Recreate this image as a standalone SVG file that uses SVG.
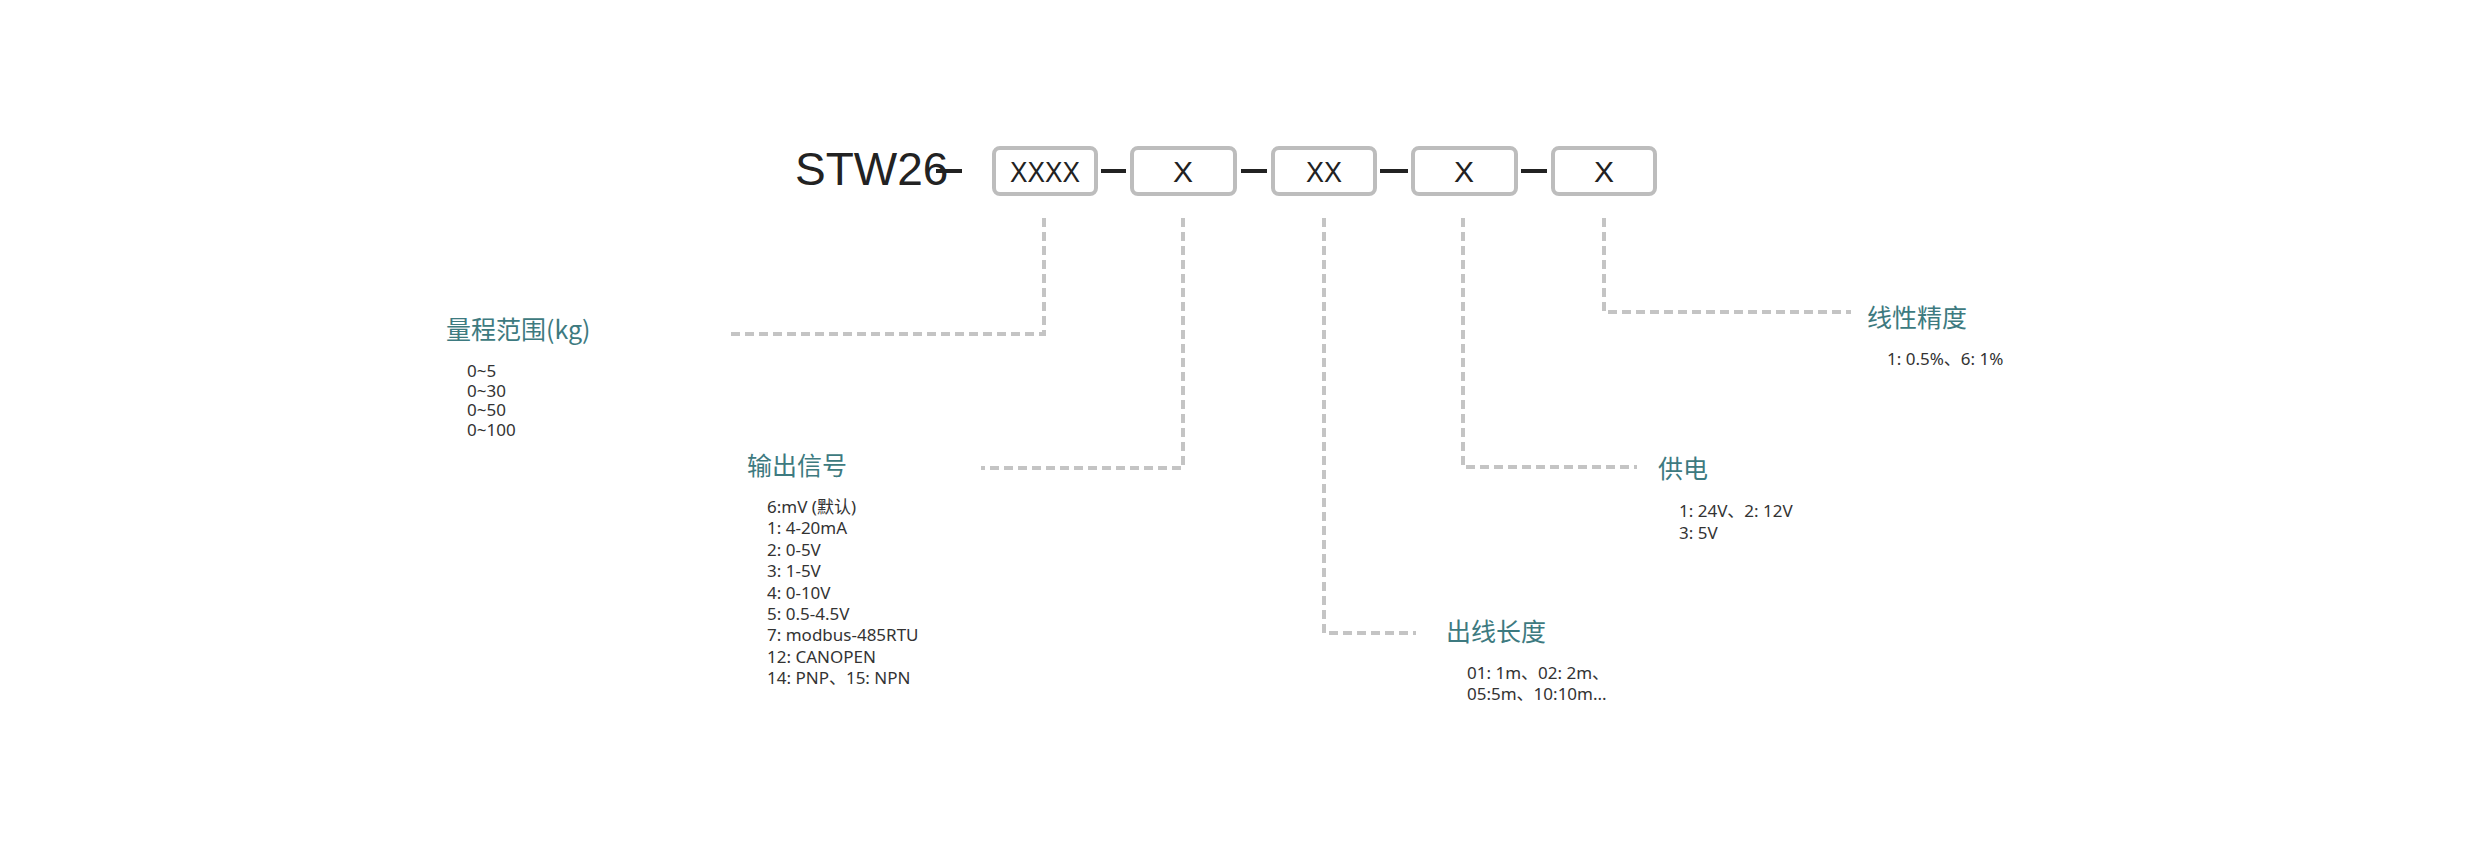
<svg xmlns="http://www.w3.org/2000/svg" width="2481" height="859" viewBox="0 0 2481 859">
<style>
.box{fill:#fff;stroke:#bdbdbd;stroke-width:4}
.bt{font-family:"Liberation Sans",sans-serif;font-size:30px;fill:#222;text-anchor:middle}
.dl{fill:none;stroke:#c4c4c4;stroke-width:4;stroke-dasharray:9 5}
.h{font-family:"Noto Sans CJK SC","Noto Sans",sans-serif;font-size:25px;fill:#3d7a80}
.t{font-family:"Noto Sans","Noto Sans CJK SC",sans-serif;font-size:17px;fill:#333}
.dash{stroke:#222;stroke-width:4}
</style>
<rect width="2481" height="859" fill="#fff"/>
<g id="code">
<text x="795" y="185" font-family="Liberation Sans,sans-serif" font-size="46" fill="#222">STW26</text>
<line class="dash" x1="936" y1="171" x2="962" y2="171"/>
<line class="dash" x1="1101" y1="171" x2="1126" y2="171"/>
<line class="dash" x1="1241" y1="171" x2="1267" y2="171"/>
<line class="dash" x1="1380" y1="171" x2="1408" y2="171"/>
<line class="dash" x1="1521" y1="171" x2="1547" y2="171"/>
</g>
<g id="b1"><rect class="box" x="994" y="148" width="102" height="46" rx="6"/><text class="bt" x="1045" y="182" textLength="70" lengthAdjust="spacingAndGlyphs">XXXX</text></g>
<g id="b2"><rect class="box" x="1132" y="148" width="103" height="46" rx="6"/><text class="bt" x="1183" y="182">X</text></g>
<g id="b3"><rect class="box" x="1273" y="148" width="102" height="46" rx="6"/><text class="bt" x="1324" y="182" textLength="36" lengthAdjust="spacingAndGlyphs">XX</text></g>
<g id="b4"><rect class="box" x="1413" y="148" width="103" height="46" rx="6"/><text class="bt" x="1464" y="182">X</text></g>
<g id="b5"><rect class="box" x="1553" y="148" width="102" height="46" rx="6"/><text class="bt" x="1604" y="182">X</text></g>
<g id="connectors">
<polyline class="dl" points="1044,218 1044,334 728,334"/>
<polyline class="dl" points="1183,218 1183,468 981,468"/>
<polyline class="dl" points="1324,218 1324,633 1416,633"/>
<polyline class="dl" points="1463,218 1463,467 1637,467"/>
<polyline class="dl" points="1604,218 1604,312 1851,312"/>
</g>
<g id="range">
<text class="h" x="446" y="339">量程范围(kg)</text>
<text class="t" x="467" y="377">0~5</text>
<text class="t" x="467" y="397">0~30</text>
<text class="t" x="467" y="416">0~50</text>
<text class="t" x="467" y="436">0~100</text>
</g>
<g id="signal">
<text class="h" x="747" y="475">输出信号</text>
<text class="t" x="767" y="513">6:mV (默认)</text>
<text class="t" x="767" y="534">1: 4-20mA</text>
<text class="t" x="767" y="556">2: 0-5V</text>
<text class="t" x="767" y="577">3: 1-5V</text>
<text class="t" x="767" y="599">4: 0-10V</text>
<text class="t" x="767" y="620">5: 0.5-4.5V</text>
<text class="t" x="767" y="641">7: modbus-485RTU</text>
<text class="t" x="767" y="663">12: CANOPEN</text>
<text class="t" x="767" y="684">14: PNP、15: NPN</text>
</g>
<g id="cable">
<text class="h" x="1446" y="641">出线长度</text>
<text class="t" x="1467" y="679">01: 1m、02: 2m、</text>
<text class="t" x="1467" y="700">05:5m、10:10m...</text>
</g>
<g id="power">
<text class="h" x="1658" y="478">供电</text>
<text class="t" x="1679" y="517">1: 24V、2: 12V</text>
<text class="t" x="1679" y="539">3: 5V</text>
</g>
<g id="accuracy">
<text class="h" x="1867" y="327">线性精度</text>
<text class="t" x="1887" y="365">1: 0.5%、6: 1%</text>
</g>
</svg>
